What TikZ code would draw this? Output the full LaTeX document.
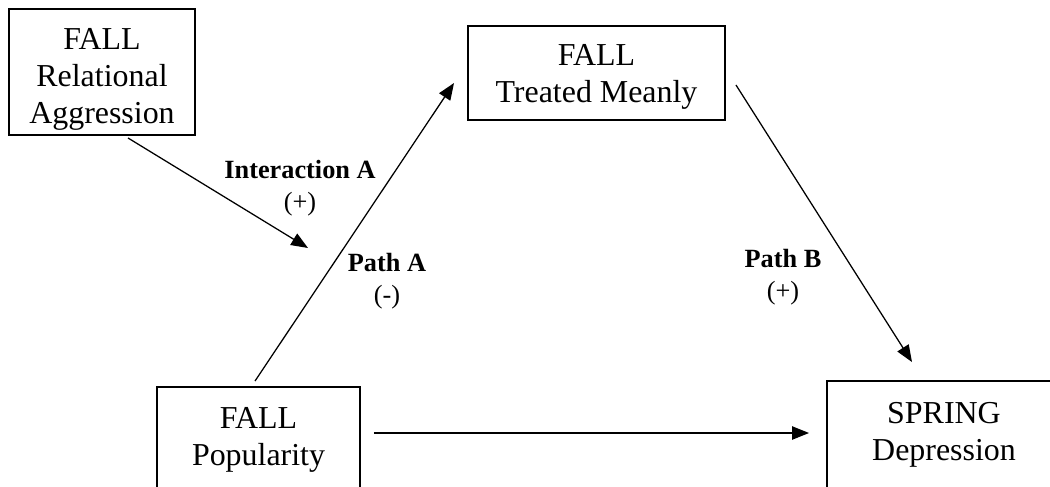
\documentclass[tikz,border=0pt]{standalone}
\usepackage{fontspec}
\setmainfont{Liberation Serif}
\usetikzlibrary{arrows.meta,calc}

\begin{document}
\begin{tikzpicture}[x=0.025cm,y=-0.025cm,line cap=butt,
    box/.style={draw,line width=1.35pt,align=center,inner sep=0pt,
      font=\fontsize{22.7}{26.3}\selectfont},
    lbl/.style={align=center,inner sep=0pt,font=\fontsize{18.7}{22.8}\selectfont},
    link/.style={line width=.9pt,-{Triangle[length=.42cm,width=.33cm]}}]
  \clip (0,0) rectangle (1050,486);

  % boxes, sized from the pixel grid of the original figure
  \node[box,minimum width=4.65cm,minimum height=3.15cm] (agg) at (102,72)
    {\rule{0pt}{25pt}FALL\\Relational\\Aggression};
  \node[box,minimum width=6.425cm,minimum height=2.35cm] (treat) at (596.5,73)
    {\rule{0pt}{20.7pt}FALL\\Treated Meanly};
  \node[box,minimum width=5.075cm,minimum height=2.65cm] (pop) at (258.5,440)
    {FALL\\Popularity};
  \node[box,minimum width=5.85cm,minimum height=2.7cm] (dep) at (944,435)
    {SPRING\\Depression};

  % moderator arrow stops short of path A
  \coordinate (modtip) at (308,248);
  \draw[link] ($(agg.south)+(26,2)$) -- (modtip);
  \draw[link] ($(pop.north)+(-3.5,-5)$) -- ($(treat.west)+(-13,10)$);
  \draw[link] ($(treat.east)+(10,12)$) -- ($(dep.north)+(-32,-18)$);
  \draw[link] ($(pop.east)+(13,-7)$) -- ($(dep.west)+(-17,-2)$);

  \node[lbl] (intA) at (300,188) {\textbf{Interaction A}\\(+)};
  \node[lbl] (pathA) at (387,281) {\textbf{Path A}\\(-)};
  \node[lbl] (pathB) at (783,277) {\textbf{Path B}\\(+)};
\end{tikzpicture}
\end{document}
